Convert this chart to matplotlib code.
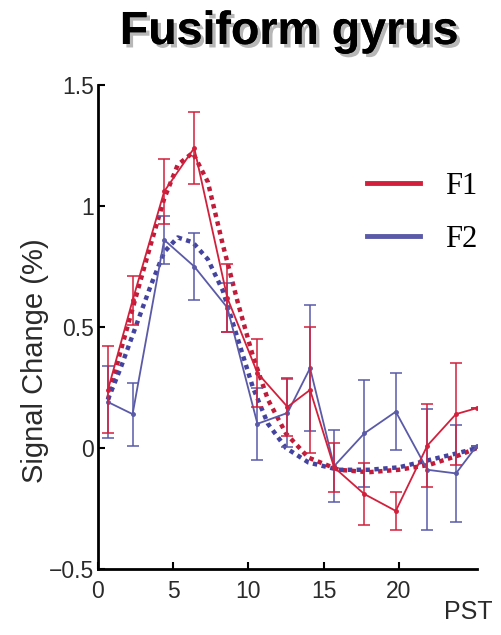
import matplotlib
matplotlib.use("Agg")
import matplotlib.pyplot as plt
import matplotlib.patheffects as pe
from matplotlib.lines import Line2D

# ---- data ----
pst = [0.66, 2.3, 4.4, 6.4, 8.6, 10.6, 12.6, 14.1, 15.7, 17.7, 19.8, 21.9, 23.8, 25.2]
f1_mean = [0.24, 0.61, 1.06, 1.24, 0.62, 0.31, 0.17, 0.24, -0.08, -0.19, -0.26, 0.01, 0.14, 0.165]
f1_err = [0.18, 0.10, 0.135, 0.15, 0.14, 0.14, 0.12, 0.26, 0.10, 0.13, 0.08, 0.17, 0.21, 0.0]
f2_mean = [0.19, 0.14, 0.86, 0.75, 0.58, 0.10, 0.145, 0.33, -0.075, 0.06, 0.15, -0.09, -0.105, 0.01]
f2_err = [0.15, 0.13, 0.10, 0.14, 0.10, 0.15, 0.14, 0.26, 0.15, 0.22, 0.16, 0.25, 0.20, 0.0]

fit_x = [0.66, 1.5, 2.5, 3.5, 4.4, 5.3, 6.3, 7.3, 8.3, 9.3, 10.3, 11.3, 12.5, 14.0, 16.0, 18.0, 20.0, 22.0, 24.0, 25.2]
f1_fit = [0.20, 0.40, 0.62, 0.84, 1.03, 1.17, 1.22, 1.10, 0.84, 0.60, 0.38, 0.20, 0.06, -0.04, -0.09, -0.10, -0.09, -0.07, -0.03, 0.0]
f2_fit = [0.20, 0.33, 0.50, 0.67, 0.81, 0.87, 0.85, 0.78, 0.65, 0.45, 0.25, 0.10, 0.0, -0.06, -0.09, -0.09, -0.08, -0.05, -0.02, 0.0]

x_ticks = [0, 5, 10, 15, 20]
y_ticks = [-0.5, 0, 0.5, 1, 1.5]
y_tick_labels = ["\u22120.5", "0", "0.5", "1", "1.5"]
series_labels = ["F1", "F2"]

red = "#d2203c"
blue = "#5a5aa8"
red_fit = "#c01c3a"
blue_fit = "#4444a0"

W, H = 502, 635
fig = plt.figure(figsize=(W / 100, H / 100), dpi=100)
ax = fig.add_axes([98 / W, 1 - 569 / H, (477 - 98) / W, (569 - 85) / H])

# fitted (dotted) curves
ax.plot(fit_x, f1_fit, color=red_fit, lw=3.2, ls=(0, (1, 1)), zorder=3)
ax.plot(fit_x, f2_fit, color=blue_fit, lw=3.2, ls=(0, (1, 1)), zorder=3)

# raw means with error bars
ax.errorbar(pst, f2_mean, yerr=f2_err, color=blue, lw=1.3, elinewidth=1.1,
            capsize=4.5, capthick=1.1, marker="o", ms=2.5, zorder=4)
ax.errorbar(pst, f1_mean, yerr=f1_err, color=red, lw=1.3, elinewidth=1.1,
            capsize=4.5, capthick=1.1, marker="o", ms=2.5, zorder=5)

ax.set_xlim(0, 25.2)
ax.set_ylim(-0.5, 1.5)
ax.spines["top"].set_visible(False)
ax.spines["right"].set_visible(False)
ax.spines["left"].set_linewidth(2)
ax.spines["bottom"].set_linewidth(2)
ax.set_xticks(x_ticks)
ax.set_yticks(y_ticks)
ax.set_yticklabels(y_tick_labels)
ax.tick_params(direction="in", length=5, width=1.5)
ax.tick_params(axis="x", pad=8)
ax.tick_params(axis="y", pad=3)
for lab in ax.get_xticklabels() + ax.get_yticklabels():
    lab.set_fontfamily("Liberation Sans")
    lab.set_fontsize(16.5)
    lab.set_color("#2a2a2a")

ax.set_ylabel("Signal Change (%)", fontsize=21, family="Liberation Sans",
              color="#2a2a2a")
ax.yaxis.set_label_coords(-0.13, 0.43)

fig.text(468 / W, 1 - 612 / H, "PST", fontsize=18, family="Liberation Sans",
         ha="center", va="center", color="#2a2a2a")

fig.text(289 / W, 1 - 32 / H, "Fusiform gyrus", fontsize=33.5, fontweight="bold",
         family="Liberation Sans", ha="center", va="center", color="black",
         path_effects=[pe.withSimplePatchShadow(offset=(2.5, -2.5), shadow_rgbFace="#888888", alpha=0.6),
                       pe.Normal()])

handles = [Line2D([], [], color=red, lw=3.5), Line2D([], [], color=blue, lw=3.5)]
ax.legend(handles, series_labels, loc="upper left",
          bbox_to_anchor=(367 / W, 1 - 172 / H), bbox_transform=fig.transFigure,
          frameon=False, prop={"family": "Liberation Serif", "size": 22},
          handlelength=1.75, handletextpad=0.8, labelspacing=0.77,
          borderpad=0, borderaxespad=0)

fig.savefig("out.png", dpi=100)
